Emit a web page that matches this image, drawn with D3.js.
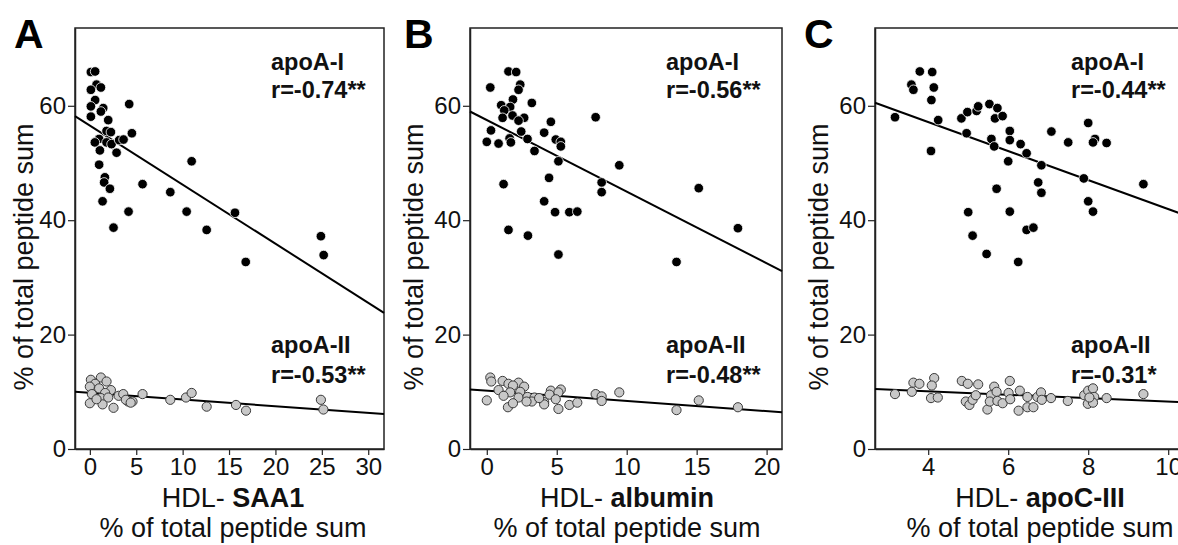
<!DOCTYPE html>
<html>
<head>
<meta charset="utf-8">
<script src="https://cdn.jsdelivr.net/npm/d3@7"></script>
<style>
  body { margin: 0; background: #fff; }
  svg { display: block; font-family: "Liberation Sans", Arial, sans-serif; }
</style>
</head>
<body>
<div id="chart"></div>
<script>

// tick labels
const yTicks = [0, 20, 40, 60];
const xTicksSAA1 = [0, 5, 10, 15, 20, 25, 30];
const xTicksAlbumin = [0, 5, 10, 15, 20];
const xTicksApoC3 = [4, 6, 8, 10];

// x-axis markers and correlation labels
const markers = ["SAA1", "albumin", "apoC-III"];
const rApoA1 = ["r=-0.74**", "r=-0.56**", "r=-0.44**"];
const rApoA2 = ["r=-0.53**", "r=-0.48**", "r=-0.31*"];

// regression fits [intercept, slope]
const fitApoA1 = [[56.55, -1.033], [57.5, -1.251], [67.3, -2.536]];
const fitApoA2 = [[9.81, -0.117], [10.2, -0.179], [11.31, -0.304]];

// A: HDL-SAA1 vs apoA-I / apoA-II
const apoA1_SAA1 = [
  [0.11, 65.9], [0.57, 66.0], [0.72, 63.7], [1.19, 63.2], [0.11, 62.8], [0.57, 61.0],
  [0.11, 59.9], [1.44, 59.6], [1.19, 59.0], [0.11, 58.1], [1.98, 57.5], [4.24, 60.3],
  [1.8, 55.6], [2.27, 55.4], [4.53, 55.2], [1.0, 54.2], [0.54, 53.6], [1.8, 53.6],
  [2.34, 53.3], [3.16, 54.0], [3.63, 54.1], [1.08, 52.2], [2.88, 51.8], [1.0, 49.7],
  [1.62, 47.5], [1.54, 46.6], [2.16, 45.5], [1.37, 43.3], [5.68, 46.3], [8.67, 44.9],
  [10.97, 50.3], [4.17, 41.5], [10.43, 41.5], [2.55, 38.7], [12.59, 38.3], [15.64, 41.3],
  [24.9, 37.2], [25.2, 33.9], [16.8, 32.7]
];
const apoA2_SAA1 = [
  [0.11, 12.1], [1.19, 12.5], [0.57, 11.4], [1.8, 11.8], [0.0, 10.9], [1.0, 10.6],
  [2.27, 10.3], [0.22, 9.6], [1.65, 9.8], [3.1, 9.3], [3.6, 9.6], [1.19, 8.9],
  [1.98, 9.0], [0.0, 8.0], [1.37, 7.8], [2.55, 7.2], [4.13, 8.3], [4.6, 8.3],
  [5.68, 9.6], [8.67, 8.6], [10.36, 9.0], [10.97, 9.8], [12.59, 7.4], [15.75, 7.7],
  [16.83, 6.7], [24.9, 8.6], [25.17, 6.9], [0.72, 8.7], [3.88, 8.6], [4.4, 8.1]
];

// B: HDL-albumin
const apoA1_albumin = [
  [1.55, 66.0], [2.1, 65.9], [0.25, 63.2], [2.39, 63.7], [2.27, 62.8], [1.87, 61.1],
  [3.22, 60.5], [1.03, 60.1], [1.67, 59.8], [1.25, 59.2], [1.84, 58.3], [1.13, 57.9],
  [2.67, 57.9], [2.27, 57.4], [7.78, 58.0], [4.58, 57.2], [0.3, 55.7], [2.46, 55.5],
  [4.1, 55.3], [2.91, 54.2], [0.0, 53.7], [0.84, 53.4], [1.63, 54.3], [1.72, 53.6],
  [4.93, 54.1], [5.29, 53.7], [5.29, 52.9], [3.41, 52.1], [5.12, 50.3], [9.47, 49.6],
  [8.21, 46.6], [8.21, 44.9], [4.45, 47.4], [1.2, 46.3], [15.15, 45.6], [4.1, 43.3],
  [4.88, 41.4], [5.9, 41.4], [6.47, 41.5], [1.55, 38.3], [2.94, 37.3], [5.12, 34.0],
  [13.56, 32.7], [17.95, 38.6]
];
const apoA2_albumin = [
  [0.25, 12.5], [0.32, 11.8], [1.13, 11.9], [1.55, 11.4], [2.27, 11.6], [1.87, 11.1],
  [2.67, 10.9], [0.84, 10.3], [1.67, 9.9], [2.39, 10.0], [1.2, 9.3], [2.27, 9.0],
  [2.91, 9.1], [3.41, 9.0], [0.0, 8.5], [3.22, 8.3], [4.1, 8.2], [4.1, 7.8],
  [4.58, 10.2], [5.29, 10.4], [5.12, 9.9], [4.48, 9.5], [4.93, 8.7], [1.51, 7.3],
  [1.87, 8.0], [5.12, 7.0], [5.9, 7.7], [6.47, 8.1], [7.78, 9.6], [8.21, 9.2],
  [8.21, 8.4], [9.47, 9.9], [13.56, 6.8], [15.15, 8.5], [17.95, 7.3], [2.84, 8.3],
  [3.74, 8.9]
];

// C: HDL-apoC-III
const apoA1_apoC3 = [
  [3.79, 66.0], [4.1, 65.9], [3.58, 63.7], [3.63, 62.8], [4.14, 63.2], [4.08, 61.0],
  [3.17, 58.0], [4.25, 57.5], [4.07, 52.1], [4.83, 57.8], [4.98, 58.9], [5.21, 59.1],
  [5.25, 59.9], [5.53, 60.3], [5.73, 59.6], [5.67, 57.8], [5.86, 58.2], [4.96, 55.2],
  [6.04, 55.6], [6.04, 54.0], [5.58, 54.2], [5.65, 52.9], [6.31, 53.3], [6.46, 51.7],
  [6.0, 50.3], [6.83, 49.6], [7.08, 55.5], [7.5, 53.6], [8.0, 57.0], [8.17, 54.2],
  [8.12, 53.6], [8.46, 53.5], [7.89, 47.3], [9.38, 46.3], [6.75, 46.6], [6.83, 44.8],
  [8.0, 43.3], [8.12, 41.5], [5.71, 45.5], [5.0, 41.4], [6.04, 41.5], [6.46, 38.3],
  [6.63, 38.7], [5.11, 37.3], [5.46, 34.1], [6.25, 32.7]
];
const apoA2_apoC3 = [
  [3.17, 9.6], [3.59, 10.0], [3.63, 11.6], [3.78, 11.4], [4.15, 12.4], [4.09, 11.1],
  [4.07, 8.9], [4.24, 9.0], [4.84, 11.9], [4.99, 11.4], [5.25, 11.3], [4.94, 8.3],
  [5.03, 7.7], [5.11, 8.6], [5.19, 9.4], [5.48, 6.9], [5.57, 9.4], [5.65, 10.9],
  [5.54, 8.3], [5.71, 10.0], [5.73, 8.4], [5.86, 8.0], [6.01, 9.8], [6.04, 11.9],
  [6.05, 8.7], [6.29, 10.2], [6.26, 6.7], [6.48, 9.1], [6.48, 7.3], [6.63, 7.3],
  [6.73, 9.1], [6.82, 9.9], [6.84, 8.6], [7.07, 8.9], [7.49, 8.4], [7.9, 9.4],
  [8.0, 10.2], [8.12, 10.6], [8.15, 9.1], [7.99, 7.9], [8.12, 8.1], [8.46, 8.9],
  [9.38, 9.6], [8.03, 9.0]
];

function scatterPanels() {

  let width = 1178,
      height = 545,
      top = 28,
      bottom = 449;

  // layout of the three panels
  let panels = [
    { letter: "A", letterX: 14, left: 75, right: 384, xDomain: [-1.6, 31.7], ticks: xTicksSAA1,
      yLabelX: 33, titleX: 233, a1: apoA1_SAA1, a2: apoA2_SAA1 },
    { letter: "B", letterX: 404, left: 470, right: 782, xDomain: [-1.2, 21.1], ticks: xTicksAlbumin,
      yLabelX: 423, titleX: 627, a1: apoA1_albumin, a2: apoA2_albumin },
    { letter: "C", letterX: 804, left: 875, right: 1195, xDomain: [2.67, 10.67], ticks: xTicksApoC3,
      yLabelX: 828, titleX: 1040, a1: apoA1_apoC3, a2: apoA2_apoC3 }
  ];

  function chart(selector) {

    let svg = d3.select(selector)
      .append("svg")
      .attr("width", width)
      .attr("height", height)
      .style("background-color", "#fff");

    let y = d3.scaleLinear()
      .domain([0, 73.6])
      .range([bottom, top]);

    panels.forEach(function (p, i) {

      let x = d3.scaleLinear()
        .domain(p.xDomain)
        .range([p.left, p.right]);

      let g = svg.append("g");

      // frame
      g.append("rect")
        .attr("x", p.left)
        .attr("y", top)
        .attr("width", p.right - p.left)
        .attr("height", bottom - top)
        .attr("fill", "none")
        .attr("stroke", "#222")
        .attr("stroke-width", 1.5);

      // axes
      let yAxis = g.append("g")
        .attr("transform", "translate(" + p.left + ",0)")
        .call(d3.axisLeft(y).tickValues(yTicks).tickSize(7).tickPadding(2).tickSizeOuter(0));

      let xAxis = g.append("g")
        .attr("transform", "translate(0," + bottom + ")")
        .call(d3.axisBottom(x).tickValues(p.ticks).tickSize(6).tickPadding(3).tickSizeOuter(0));

      [yAxis, xAxis].forEach(function (ax) {
        ax.select(".domain").attr("stroke", "#222").attr("stroke-width", 1.5);
        ax.selectAll(".tick line").attr("stroke", "#222").attr("stroke-width", 1.2);
        ax.selectAll(".tick text")
          .attr("fill", "#111")
          .style("font-size", "24px")
          .style("font-family", "'Liberation Sans', Arial, sans-serif");
      });

      // regression lines
      let line = d3.line()
        .x(d => x(d[0]))
        .y(d => y(d[1]));

      [fitApoA1[i], fitApoA2[i]].forEach(function (f) {
        let ends = p.xDomain.map(v => [v, f[0] + f[1] * v]);
        g.append("path")
          .attr("d", line(ends))
          .attr("fill", "none")
          .attr("stroke", "#000")
          .attr("stroke-width", 2);
      });

      // apoA-II points (grey)
      g.selectAll("circle.a2")
        .data(p.a2)
        .enter()
          .append("circle")
          .attr("class", "a2")
          .attr("cx", d => x(d[0]))
          .attr("cy", d => y(d[1]))
          .attr("r", 4.6)
          .attr("fill", "#c8c8c8")
          .attr("stroke", "#3a3a3a")
          .attr("stroke-width", 1);

      // apoA-I points (black)
      g.selectAll("circle.a1")
        .data(p.a1)
        .enter()
          .append("circle")
          .attr("class", "a1")
          .attr("cx", d => x(d[0]))
          .attr("cy", d => y(d[1]))
          .attr("r", 4.8)
          .attr("fill", "#000")
          .attr("stroke", "#fff")
          .attr("stroke-width", 0.8);

      // annotations
      let notes = [["apoA-I", 70], [rApoA1[i], 98], ["apoA-II", 353], [rApoA2[i], 383]];
      g.selectAll("text.note")
        .data(notes)
        .enter()
          .append("text")
          .attr("class", "note")
          .attr("x", p.left + 196)
          .attr("y", d => d[1])
          .attr("font-size", "23.5px")
          .attr("font-weight", "bold")
          .attr("fill", "#111")
          .text(d => d[0]);

      // panel letter
      g.append("text")
        .attr("x", p.letterX)
        .attr("y", 48)
        .attr("font-size", "41px")
        .attr("font-weight", "bold")
        .attr("fill", "#000")
        .text(p.letter);

      // y title
      g.append("text")
        .attr("transform", "translate(" + p.yLabelX + ",257) rotate(-90)")
        .attr("text-anchor", "middle")
        .attr("font-size", "27px")
        .attr("fill", "#111")
        .text("% of total peptide sum");

      // x title, two lines
      let t = g.append("text")
        .attr("x", p.titleX)
        .attr("y", 507)
        .attr("text-anchor", "middle")
        .attr("font-size", "27px")
        .attr("fill", "#111");
      t.append("tspan").text("HDL- ");
      t.append("tspan").attr("font-weight", "bold").text(markers[i]);

      g.append("text")
        .attr("x", p.titleX)
        .attr("y", 537)
        .attr("text-anchor", "middle")
        .attr("font-size", "27px")
        .attr("fill", "#111")
        .text("% of total peptide sum");
    });

    return chart;
  }

  return chart;
}

scatterPanels()("#chart");
</script>
</body>
</html>
